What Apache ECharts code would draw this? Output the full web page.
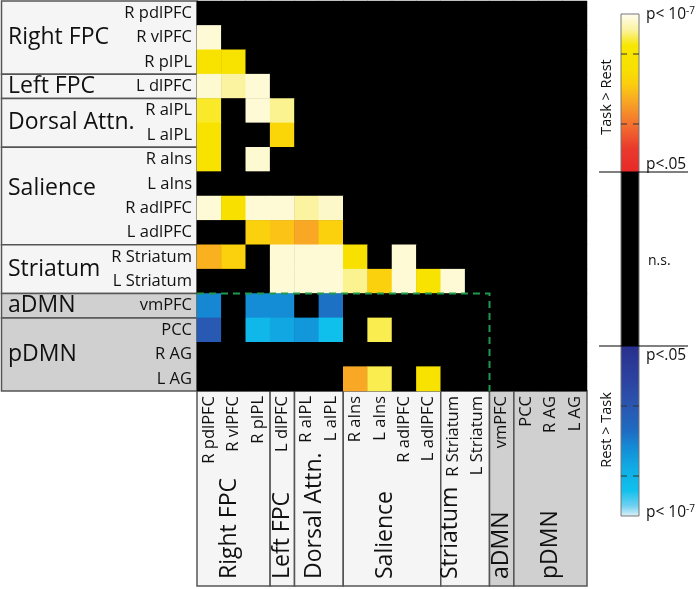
<!DOCTYPE html>
<html><head><meta charset="utf-8">
<script src="https://cdn.jsdelivr.net/npm/echarts@6/dist/echarts.min.js"></script>
<style>html,body{margin:0;padding:0;background:#fff}#c{width:696px;height:589px}</style>
</head><body><div id="c"></div>
<script>
// ---------------- data ----------------
const regions = ['R pdlPFC','R vlPFC','R pIPL','L dlPFC','R aIPL','L aIPL','R aIns','L aIns',
  'R adlPFC','L adlPFC','R Striatum','L Striatum','vmPFC','PCC','R AG','L AG'];
const groupNames = ['Right FPC','Left FPC','Dorsal Attn.','Salience','Striatum','aDMN','pDMN'];
const groupSizes = [3,1,2,4,2,1,3];
// signed significance score: 0 = n.s.; +1..+3 Task>Rest (p<.05 .. p<1e-7); -1..-3 Rest>Task
const scoreRows = [
  [0,0,0,0,0,0,0,0,0,0,0,0,0,0,0,0],
  [2.93,0,0,0,0,0,0,0,0,0,0,0,0,0,0,0],
  [2.4,2.4,0,0,0,0,0,0,0,0,0,0,0,0,0,0],
  [2.92,2.8,2.93,0,0,0,0,0,0,0,0,0,0,0,0,0],
  [2.65,0,2.93,2.78,0,0,0,0,0,0,0,0,0,0,0,0],
  [2.4,0,0,2.2,0,0,0,0,0,0,0,0,0,0,0,0],
  [2.4,0,2.92,0,0,0,0,0,0,0,0,0,0,0,0,0],
  [0,0,0,0,0,0,0,0,0,0,0,0,0,0,0,0],
  [2.93,2.35,2.93,2.93,2.8,2.9,0,0,0,0,0,0,0,0,0,0],
  [0,0,2.15,2.05,1.9,2.15,0,0,0,0,0,0,0,0,0,0],
  [1.95,2.15,0,2.93,2.93,2.93,2.35,0,2.93,0,0,0,0,0,0,0],
  [0,0,0,2.93,2.93,2.93,2.78,2.15,2.93,2.4,2.93,0,0,0,0,0],
  [-2.17,0,-2.2,-2.2,0,-2.03,0,0,0,0,0,0,0,0,0,0],
  [-1.75,0,-2.58,-2.4,-2.28,-2.7,0,2.7,0,0,0,0,0,0,0,0],
  [0,0,0,0,0,0,0,0,0,0,0,0,0,0,0,0],
  [0,0,0,0,0,0,1.9,2.7,0,2.4,0,0,0,0,0,0]
];
// colour scale stops [score, colour]
const posStops = [[1.0,'#e82828'],[1.3,'#ea3a2c'],[1.6,'#f37030'],[1.9,'#f8a824'],[2.1,'#fbcc10'],
  [2.3,'#f8e000'],[2.6,'#f8e600'],[2.8,'#fbf3a0'],[3.0,'#fffdf2']];
const negStops = [[-1.0,'#28308c'],[-1.4,'#2c42a0'],[-1.7,'#2a56b0'],[-2.0,'#1e6cc2'],[-2.2,'#148cd6'],
  [-2.45,'#10aee6'],[-2.7,'#10c0ec'],[-2.88,'#70d0f0'],[-3.0,'#daf0f8']];
const barLabels = {top:'p< 10', sup:'-7', sig:'p<.05', ns:'n.s.', pos:'Task > Rest', neg:'Rest > Task'};

// ---------------- helpers ----------------
function hex(h){return [1,3,5].map(i=>parseInt(h.substr(i,2),16));}
function toHex(c){return '#'+c.map(v=>Math.round(v).toString(16).padStart(2,'0')).join('');}
function interp(stops,v){
  for(let i=0;i<stops.length-1;i++){
    const [a,ca]=stops[i],[b,cb]=stops[i+1];
    const lo=Math.min(a,b),hi=Math.max(a,b);
    if(v>=lo&&v<=hi){const t=(v-a)/(b-a);const A=hex(ca),B=hex(cb);return toHex(A.map((x,k)=>x+(B[k]-x)*t));}
  }
  return stops[stops.length-1][1];
}
function colorAt(v){ if(v>=1) return interp(posStops,v); if(v<=-1) return interp(negStops,v); return '#000000'; }
const mapColors=[]; const NS=1201;
for(let i=0;i<NS;i++){ mapColors.push(colorAt(-3+6*i/(NS-1))); }

// ---------------- layout ----------------
const FONT='Open Sans';
const N=regions.length;
const G={left:197, top:1, size:390};
const cell=G.size/N;
const bottomEdge=586;
const bottomNameDx=[-4,0,-4,-7,-15,0,0];
const leftNameDy=[0,0,0,-8,0,0,0];

const data=[];
scoreRows.forEach((row,r)=>row.forEach((v,c)=>data.push([c,r,v])));

const graphics=[];
let start=0;
groupNames.forEach((name,g)=>{
  const n=groupSizes[g];
  const fill=g>=5?'#d0d0d0':'#f4f5f4';
  // left panel
  const y0=G.top+start*cell, h=n*cell;
  graphics.push({type:'rect',z:-1,shape:{x:1.5,y:y0,width:G.left-1.5,height:h},style:{fill:fill,stroke:'#555',lineWidth:1.5}});
  graphics.push({type:'text',z:5,x:8,y:y0+h/2+leftNameDy[g],style:{text:name,fontSize:23,fontFamily:FONT,fill:'#111',align:'left',verticalAlign:'middle'}});
  // bottom panel
  const x0=G.left+start*cell, w=n*cell;
  const yb=G.top+G.size;
  graphics.push({type:'rect',z:-1,shape:{x:x0,y:yb,width:w,height:bottomEdge-yb},style:{fill:fill,stroke:'#555',lineWidth:1.5}});
  graphics.push({type:'text',z:5,x:x0+w/2+bottomNameDx[g],y:bottomEdge-7,rotation:Math.PI/2,style:{text:name,fontSize:23,fontFamily:FONT,fill:'#111',align:'left',verticalAlign:'middle'}});
  start+=n;
});
// dashed box around DMN x non-DMN block
const yD=G.top+12*cell, xD=G.left+12*cell;
graphics.push({type:'polyline',z:10,shape:{points:[[G.left,yD],[xD,yD],[xD,G.top+G.size]]},style:{stroke:'#1f9a4c',lineWidth:2,lineDash:[7,5],fill:null}});

// colour bar
const CB={x:621,w:18,y0:14,y1:172,y2:346,y3:516};
graphics.push({type:'rect',z:3,shape:{x:CB.x,y:CB.y0,width:CB.w,height:CB.y1-CB.y0},
  style:{fill:{type:'linear',x:0,y:0,x2:0,y2:1,colorStops:posStops.map(s=>({offset:(3-s[0])/2,color:s[1]})).reverse()}}});
graphics.push({type:'rect',z:3,shape:{x:CB.x,y:CB.y1,width:CB.w,height:CB.y2-CB.y1},style:{fill:'#000'}});
graphics.push({type:'rect',z:3,shape:{x:CB.x,y:CB.y2,width:CB.w,height:CB.y3-CB.y2},
  style:{fill:{type:'linear',x:0,y:0,x2:0,y2:1,colorStops:negStops.map(s=>({offset:(-1-s[0])/2,color:s[1]}))}}});
graphics.push({type:'rect',z:4,shape:{x:CB.x,y:CB.y0,width:CB.w,height:CB.y3-CB.y0},style:{fill:null,stroke:'#777',lineWidth:1}});
[CB.y1,CB.y2].forEach(y=>graphics.push({type:'line',z:4,shape:{x1:599,y1:y,x2:688,y2:y},style:{stroke:'#000',lineWidth:1}}));
[54,124,406,476].forEach(y=>{
  graphics.push({type:'line',z:4,shape:{x1:CB.x,y1:y,x2:CB.x+6,y2:y},style:{stroke:'#333',lineWidth:1}});
  graphics.push({type:'line',z:4,shape:{x1:CB.x+12,y1:y,x2:CB.x+CB.w,y2:y},style:{stroke:'#333',lineWidth:1}});
});
const supRich={b:{fontSize:15.5,fontFamily:FONT,fill:'#111',color:'#111',lineHeight:18},
  s:{fontSize:10,fontFamily:FONT,fill:'#111',color:'#111',verticalAlign:'top',lineHeight:18}};
[[CB.y0+1],[CB.y3-3]].forEach(([y])=>graphics.push({type:'text',z:5,x:646,y:y,style:{text:'{b|'+barLabels.top+'}{s|'+barLabels.sup+'}',rich:supRich,verticalAlign:'middle',align:'left'}}));
graphics.push({type:'text',z:5,x:646,y:CB.y1-7,style:{text:barLabels.sig,fontSize:15.5,fontFamily:FONT,fill:'#111',verticalAlign:'middle',align:'left'}});
graphics.push({type:'text',z:5,x:646,y:CB.y2+10,style:{text:barLabels.sig,fontSize:15.5,fontFamily:FONT,fill:'#111',verticalAlign:'middle',align:'left'}});
graphics.push({type:'text',z:5,x:648,y:261,style:{text:barLabels.ns,fontSize:14,fontFamily:FONT,fill:'#111',verticalAlign:'middle',align:'left'}});
graphics.push({type:'text',z:5,x:607,y:97,rotation:Math.PI/2,style:{text:barLabels.pos,fontSize:14.5,fontFamily:FONT,fill:'#111',verticalAlign:'middle',align:'center'}});
graphics.push({type:'text',z:5,x:607,y:430,rotation:Math.PI/2,style:{text:barLabels.neg,fontSize:14.5,fontFamily:FONT,fill:'#111',verticalAlign:'middle',align:'center'}});

const chart=echarts.init(document.getElementById('c'),null,{renderer:'canvas'});
chart.setOption({
  animation:false,
  backgroundColor:'#ffffff',
  grid:{left:G.left,top:G.top,width:G.size,height:G.size,containLabel:false,show:true,backgroundColor:'#000000',borderWidth:0},
  xAxis:{type:'category',data:regions,position:'bottom',
    axisLine:{show:false},splitLine:{show:false},splitArea:{show:false},
    axisTick:{show:true,inside:true,length:3,alignWithLabel:true,lineStyle:{color:'#888'}},
    axisLabel:{rotate:90,interval:0,fontSize:16.5,fontFamily:FONT,color:'#111',margin:5}},
  yAxis:{type:'category',data:regions,inverse:true,
    axisLine:{show:false},splitLine:{show:false},splitArea:{show:false},
    axisTick:{show:true,inside:true,length:3,alignWithLabel:true,lineStyle:{color:'#888'}},
    axisLabel:{interval:0,fontSize:16.5,fontFamily:FONT,color:'#111',margin:5}},
  visualMap:{type:'continuous',show:false,min:-3,max:3,dimension:2,seriesIndex:0,inRange:{color:mapColors}},
  series:[{type:'heatmap',data:data,itemStyle:{borderWidth:0},emphasis:{disabled:true},progressive:0}],
  graphic:{elements:graphics}
});
</script></body></html>
